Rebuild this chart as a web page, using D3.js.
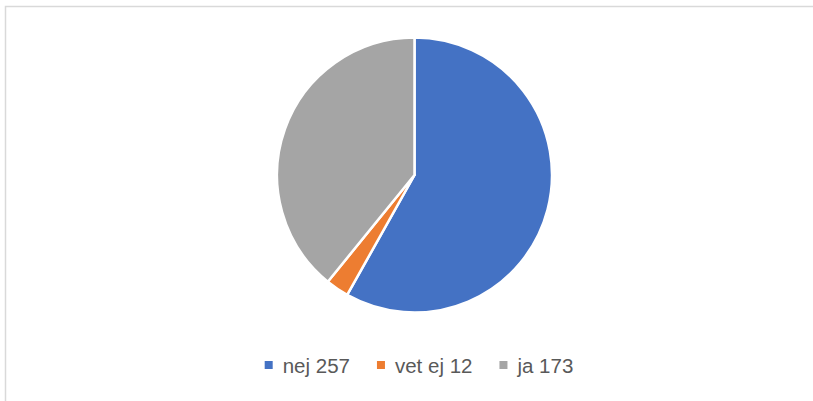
<!DOCTYPE html>
<html><head><meta charset="utf-8">
<script src="https://cdn.jsdelivr.net/npm/d3@7"></script>
<style>body{margin:0;background:#fff;}svg{display:block;}</style>
</head><body>
<svg id="c" width="813" height="401"></svg>
<script>
const categories = ["nej", "vet ej", "ja"];
const values = [257, 12, 173];
const colors = ["#4472C4", "#ED7D31", "#A5A5A5"];

const svg = d3.select("#c");
// chart border (extends past right/bottom edges)
svg.append("rect").attr("x", 5.5).attr("y", 6.5).attr("width", 900).attr("height", 500)
  .attr("fill", "#fff").attr("stroke", "#d9d9d9").attr("stroke-width", 1.5);

const cx = 414.5, cy = 175, r = 137.5;
const pie = d3.pie().sort(null).value(d => d)(values);
const arc = d3.arc().innerRadius(0).outerRadius(r);
const g = svg.append("g").attr("transform", `translate(${cx},${cy})`);
g.selectAll("path").data(pie).join("path")
  .attr("d", arc).attr("fill", (d, i) => colors[i])
  .attr("stroke", "#fff").attr("stroke-width", 2.5).attr("stroke-linejoin", "round");

// legend
const lg = svg.append("g");
const items = lg.selectAll("g").data(categories).join("g");
items.append("rect").attr("width", 8).attr("height", 8).attr("y", -12)
  .attr("fill", (d, i) => colors[i]);
items.append("text").attr("x", 18).attr("y", 0)
  .attr("font-family", "Liberation Sans, Arial, sans-serif").attr("font-size", 20.5)
  .attr("fill", "#595959").text((d, i) => `${d} ${values[i]}`);
let x = 0;
const xs = [];
items.each(function () {
  xs.push(x);
  const w = d3.select(this).select("text").node().getComputedTextLength();
  x += 18 + w + 27;
});
const total = x - 27;
const start = 419 - total / 2;
items.attr("transform", (d, i) => `translate(${start + xs[i]},373)`);
</script>
</body></html>
